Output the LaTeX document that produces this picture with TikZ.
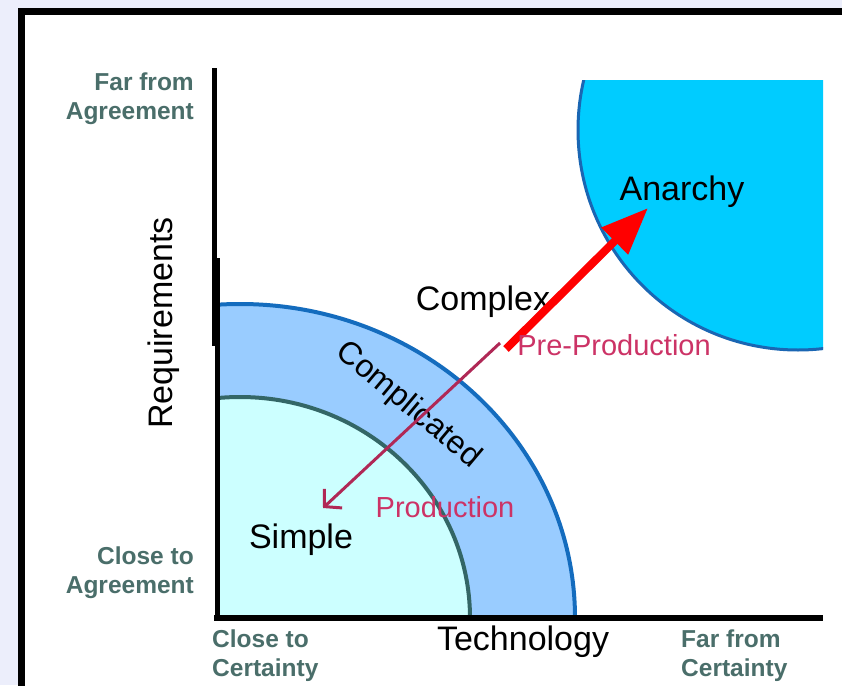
\documentclass[tikz,border=0pt]{standalone}
\usepackage{fontspec}
\setmainfont{Liberation Sans}
\usetikzlibrary{arrows.meta}

\definecolor{pagebg}{RGB}{236,238,251}
\definecolor{notegreen}{RGB}{74,110,106}
\definecolor{prodred}{RGB}{204,51,102}
\definecolor{prodline}{RGB}{176,40,86}
\definecolor{anarchyfill}{RGB}{0,204,255}
\definecolor{anarchyedge}{RGB}{26,102,179}
\definecolor{ringfill}{RGB}{153,204,255}
\definecolor{ringedge}{RGB}{20,108,190}
\definecolor{simplefill}{RGB}{204,255,255}
\definecolor{simpleedge}{RGB}{51,102,102}

\tikzset{
  zone/.style={font=\fontsize{34}{37}\selectfont},
  flow/.style={font=\fontsize{29}{32}\selectfont, text=prodred},
  scalenote/.style={font=\bfseries\fontsize{24.5}{29}\selectfont, text=notegreen, inner sep=0pt},
}

\begin{document}
\begin{tikzpicture}[x=1pt, y=-1pt]
    \useasboundingbox (0,0) rectangle (842,685);

    % Page and frame
    \fill [pagebg] (0,0) rectangle (842,685);
    \fill [white] (21.5,11.5) rectangle (842,685);
    \draw [line width=7pt] (21.5,690) -- (21.5,11.5) -- (850,11.5);

    % Anarchy
    \begin{scope}
      \clip (570,80) rectangle (823,360);
      \draw [anarchyedge, fill=anarchyfill, line width=3pt] (798,130) circle [radius=220];
    \end{scope}

    % Complicated and simple
    \begin{scope}
      \clip (218,618) rectangle (823,250);
      \draw [ringedge, fill=ringfill, line width=4pt] (240,618) ellipse [x radius=335, y radius=314];
      \draw [simpleedge, fill=simplefill, line width=4pt] (240,618) ellipse [x radius=230, y radius=221];
    \end{scope}

    % Axes
    \draw [line width=5pt] (214,68) -- (214,346);
    \draw [line width=5pt] (217,258) -- (217,620);
    \draw [line width=6pt] (214,618) -- (823,618);

    % Zones
    \node [zone, anchor=base] (anarchy) at (682,200) {Anarchy};
    \node [zone, anchor=base] (complex) at (483,310) {Complex};
    \node [zone, anchor=base] (simple) at (301,548) {Simple};
    \node [zone, rotate=-40, font=\fontsize{32}{34}\selectfont] (complicated) at (408,405) {Complicated};

    % Edges
    \coordinate (prodstart) at (500,343);
    \coordinate (prodtip) at (323,508);
    \coordinate (prestart) at (506,349);
    \coordinate (anarchytip) at (648,208);
    \draw [prodline, line width=3pt, -{Straight Barb[length=12pt,width=26pt]}] (prodstart) -- (prodtip);
    \draw [red, line width=8pt, -{Triangle[length=47pt,width=36pt]}] (prestart) -- (anarchytip);
    \node [flow, anchor=base] (preprod) at (614,355) {Pre-Production};
    \node [flow, anchor=base] (prod) at (445,517) {Production};

    % Axis titles
    \node [zone, rotate=90, anchor=base] (req) at (172,323) {Requirements};
    \node [zone, anchor=base] (tech) at (523,650) {Technology};

    % Scale ends
    \node [scalenote, align=right, anchor=north east] (farAgree) at (194,73) {Far from\\Agreement};
    \node [scalenote, align=right, anchor=north east] (closeAgree) at (194,547) {Close to\\Agreement};
    \node [scalenote, align=left, anchor=north west] (closeCert) at (212,630) {Close to\\Certainty};
    \node [scalenote, align=left, anchor=north west] (farCert) at (681,630) {Far from\\Certainty};
\end{tikzpicture}
\end{document}
